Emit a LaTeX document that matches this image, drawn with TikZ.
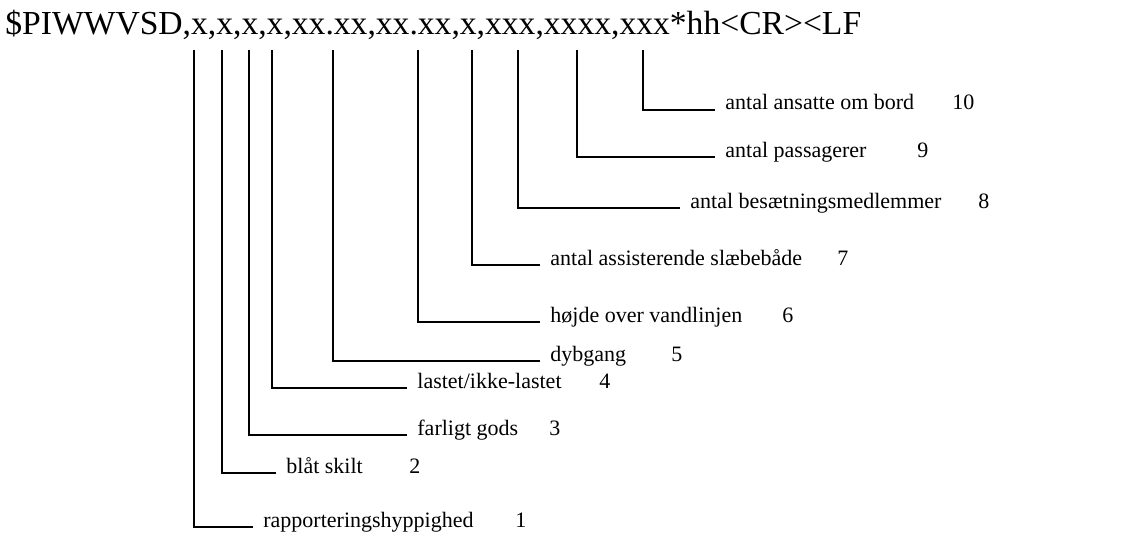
\documentclass[tikz,border=0pt]{standalone}
\usepackage{fontspec}
\setmainfont{Liberation Serif}
\usepackage{tikz}
\usetikzlibrary{positioning}

\begin{document}
\begin{tikzpicture}[x=0.5pt, y=-0.5pt,
    lbl/.style={anchor=base west, inner xsep=5pt, inner ysep=0pt, font=\fontsize{11}{13}\selectfont},
    num/.style={anchor=base west, inner sep=0pt, font=\fontsize{11}{13}\selectfont},
    lead/.style={black, line width=0.6pt}]
    \useasboundingbox (0,0) rectangle (1134,551);
    % --- sentence header ---
    \node[anchor=base west, inner sep=0pt, font=\fontsize{16.8}{20}\selectfont] (hdr) at (5,35)
      {\$PIWWVSD,x,x,x,x,xx.xx,xx.xx,x,xxx,xxxx,xxx*hh<CR><LF};
    % --- tops of the leaders, under the fields ---
    \coordinate (f1) at (194,50);
    \coordinate (f2) at (222,50);
    \coordinate (f3) at (249,50);
    \coordinate (f4) at (272,50);
    \coordinate (f5) at (333,50);
    \coordinate (f6) at (418,50);
    \coordinate (f7) at (472,50);
    \coordinate (f8) at (518,50);
    \coordinate (f9) at (577,50);
    \coordinate (f10) at (643,50);
    % --- field names ---
    \node[lbl] (l1) at (253,527) {rapporteringshyppighed};
    \node[lbl] (l2) at (276,473) {blåt skilt};
    \node[lbl] (l3) at (407,435) {farligt gods};
    \node[lbl] (l4) at (407,388) {lastet/ikke-lastet};
    \node[lbl] (l5) at (540,361) {dybgang};
    \node[lbl] (l6) at (540,322) {højde over vandlinjen};
    \node[lbl] (l7) at (540,265) {antal assisterende slæbebåde};
    \node[lbl] (l8) at (680,208) {antal besætningsmedlemmer};
    \node[lbl] (l9) at (715,157) {antal passagerer};
    \node[lbl] (l10) at (715,110) {antal ansatte om bord};
    % --- field numbers ---
    \node[num] (n1) at (515,527) {1};
    \node[num] (n2) at (409,473) {2};
    \node[num] (n3) at (549,435) {3};
    \node[num] (n4) at (599,388) {4};
    \node[num] (n5) at (671,361) {5};
    \node[num] (n6) at (782,322) {6};
    \node[num] (n7) at (837,265) {7};
    \node[num] (n8) at (978,208) {8};
    \node[num] (n9) at (917,157) {9};
    \node[num] (n10) at (952,110) {10};
    % --- leaders ---
    \draw[lead] (f1) |- (l1.base west);
    \draw[lead] (f2) |- (l2.base west);
    \draw[lead] (f3) |- (l3.base west);
    \draw[lead] (f4) |- (l4.base west);
    \draw[lead] (f5) |- (l5.base west);
    \draw[lead] (f6) |- (l6.base west);
    \draw[lead] (f7) |- (l7.base west);
    \draw[lead] (f8) |- (l8.base west);
    \draw[lead] (f9) |- (l9.base west);
    \draw[lead] (f10) |- (l10.base west);
\end{tikzpicture}
\end{document}
